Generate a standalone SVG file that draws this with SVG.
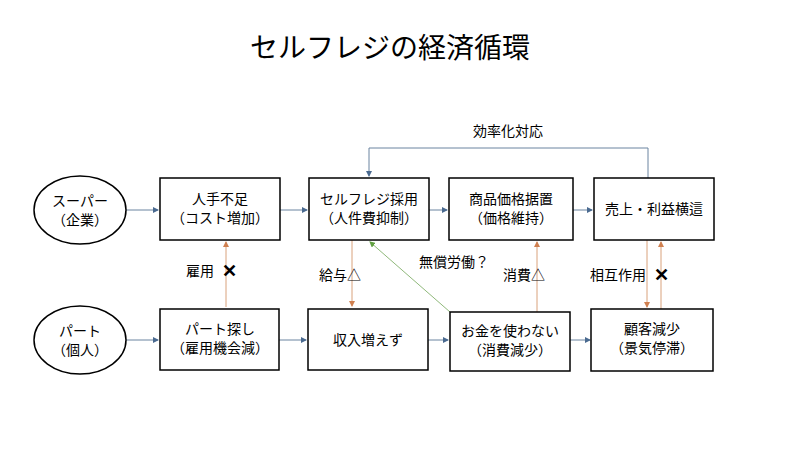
<svg xmlns="http://www.w3.org/2000/svg" width="800" height="450" viewBox="0 0 800 450">
<style>
text{font-family:"Noto Sans CJK JP","Noto Sans",sans-serif;fill:#000;text-anchor:middle}
.t{font-size:14px}
.n{fill:#fff;stroke:#000;stroke-width:1.5}
.b{stroke:#6a84a0;stroke-width:1;fill:none}
.o{stroke:#d9a27c;stroke-width:1;fill:none}
.g{stroke:#8fb87a;stroke-width:1;fill:none}
</style>
<defs>
<marker id="ab" markerWidth="6" markerHeight="6" refX="5" refY="3" orient="auto"><path d="M0,0L6,3L0,6z" fill="#4a6a90"/></marker>
<marker id="ao" markerWidth="6" markerHeight="6" refX="5" refY="3" orient="auto"><path d="M0,0L6,3L0,6z" fill="#d08050"/></marker>
<marker id="ag" markerWidth="6" markerHeight="6" refX="5" refY="3" orient="auto"><path d="M0,0L6,3L0,6z" fill="#60a040"/></marker>
</defs>
<rect width="800" height="450" fill="#fff"/>
<text x="390" y="58" style="font-size:28px">セルフレジの経済循環</text>
<g id="connectors">
<line class="b" x1="126" y1="210" x2="158" y2="210" marker-end="url(#ab)"/>
<line class="b" x1="280" y1="210" x2="307" y2="210" marker-end="url(#ab)"/>
<line class="b" x1="429" y1="210" x2="447" y2="210" marker-end="url(#ab)"/>
<line class="b" x1="573" y1="210" x2="592" y2="210" marker-end="url(#ab)"/>
<line class="b" x1="126" y1="340" x2="158" y2="340" marker-end="url(#ab)"/>
<line class="b" x1="279" y1="340" x2="306" y2="340" marker-end="url(#ab)"/>
<line class="b" x1="428" y1="340" x2="448" y2="340" marker-end="url(#ab)"/>
<line class="b" x1="570" y1="340" x2="590" y2="340" marker-end="url(#ab)"/>
<polyline class="b" points="648,178 648,148 369,148 369,176" marker-end="url(#ab)"/>
<line class="o" x1="226" y1="307" x2="226" y2="242" marker-end="url(#ao)"/>
<line class="o" x1="352" y1="240" x2="352" y2="306" marker-end="url(#ao)"/>
<line class="o" x1="537" y1="312" x2="537" y2="242" marker-end="url(#ao)"/>
<line class="o" x1="647" y1="240" x2="647" y2="307" marker-end="url(#ao)"/>
<line class="o" x1="661" y1="309" x2="661" y2="242" marker-end="url(#ao)"/>
<line class="g" x1="450" y1="312" x2="370" y2="242" marker-end="url(#ag)"/>
<text class="t" x="508" y="136">効率化対応</text>
<text class="t" x="200" y="276">雇用</text><text x="229" y="277" style="font-size:18px;font-weight:bold">✕</text>
<text class="t" x="340" y="280">給与△</text>
<text class="t" x="454" y="267">無償労働？</text>
<text class="t" x="524" y="280">消費△</text>
<text class="t" x="618" y="280">相互作用</text><text x="661" y="281" style="font-size:18px;font-weight:bold">✕</text>
</g>
<g id="super"><ellipse class="n" cx="80" cy="210" rx="46" ry="34"/><text class="t" x="80" y="206">スーパー</text><text class="t" x="80" y="225">（企業）</text></g>
<g id="part"><ellipse class="n" cx="80" cy="340" rx="46" ry="34"/><text class="t" x="80" y="336">パート</text><text class="t" x="80" y="355">（個人）</text></g>
<g id="n1"><rect class="n" x="160" y="178" width="120" height="62"/><text class="t" x="220" y="204">人手不足</text><text class="t" x="220" y="223">（コスト増加）</text></g>
<g id="n2"><rect class="n" x="309" y="178" width="120" height="62"/><text class="t" x="369" y="204">セルフレジ採用</text><text class="t" x="369" y="223">（人件費抑制）</text></g>
<g id="n3"><rect class="n" x="449" y="178" width="124" height="62"/><text class="t" x="511" y="204">商品価格据置</text><text class="t" x="511" y="223">（価格維持）</text></g>
<g id="n4"><rect class="n" x="594" y="178" width="120" height="62"/><text class="t" x="654" y="214">売上・利益横這</text></g>
<g id="n5"><rect class="n" x="160" y="309" width="119" height="61"/><text class="t" x="220" y="334">パート探し</text><text class="t" x="220" y="353">（雇用機会減）</text></g>
<g id="n6"><rect class="n" x="308" y="309" width="120" height="61"/><text class="t" x="368" y="345">収入増えず</text></g>
<g id="n7"><rect class="n" x="450" y="312" width="120" height="59"/><text class="t" x="510" y="336">お金を使わない</text><text class="t" x="510" y="355">（消費減少）</text></g>
<g id="n8"><rect class="n" x="591" y="309" width="122" height="62"/><text class="t" x="652" y="334">顧客減少</text><text class="t" x="652" y="353">（景気停滞）</text></g>
</svg>
